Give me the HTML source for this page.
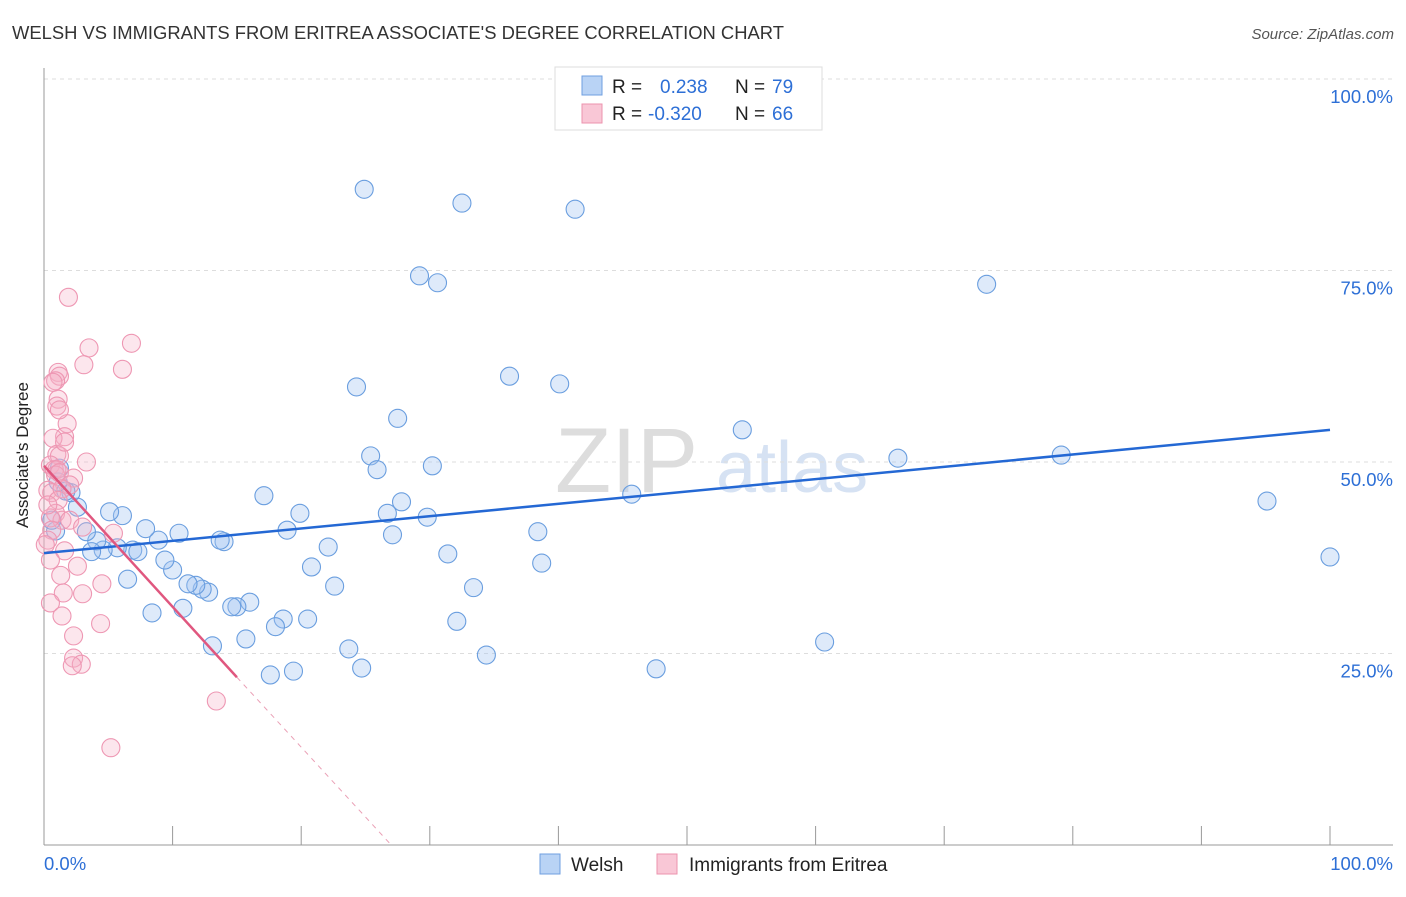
<!DOCTYPE html>
<html><head><meta charset="utf-8"><style>
body{margin:0;background:#fff;font-family:"Liberation Sans",sans-serif;}
svg text{font-family:"Liberation Sans",sans-serif;}
</style></head><body>
<svg width="1406" height="892" viewBox="0 0 1406 892">
<text x="12" y="39" font-size="18.4" fill="#333">WELSH VS IMMIGRANTS FROM ERITREA ASSOCIATE'S DEGREE CORRELATION CHART</text>
<text x="1394" y="39" font-size="15" fill="#555" font-style="italic" text-anchor="end">Source: ZipAtlas.com</text>
<g><text x="555" y="492" font-size="92" fill="#ddd" font-family="Liberation Serif,serif">ZIP</text><text x="716" y="492" font-size="72" fill="#d6e2f3">atlas</text></g>
<g id="grid"></g><g id="axes"></g><g id="pts"></g><g id="lines"></g>
<text x="28" y="455" font-size="17" fill="#222" text-anchor="middle" transform="rotate(-90 28 455)">Associate's Degree</text>
<g>
<rect x="555" y="67" width="267" height="63" fill="#fff" stroke="#ddd"/>
<rect x="582" y="76" width="20" height="19" fill="#b9d3f5" stroke="#6f9fe0"/>
<rect x="582" y="104" width="20" height="19" fill="#f9c7d6" stroke="#ec93ae"/>
<text y="93" font-size="19" fill="#222"><tspan x="612">R =</tspan><tspan x="660" fill="#2d6fd6">0.238</tspan><tspan x="735">N =</tspan><tspan x="772" fill="#2d6fd6">79</tspan></text>
<text y="120" font-size="19" fill="#222"><tspan x="612">R =</tspan><tspan x="648" fill="#2d6fd6">-0.320</tspan><tspan x="735">N =</tspan><tspan x="772" fill="#2d6fd6">66</tspan></text>
</g>
<g>
<rect x="540" y="854" width="20" height="20" fill="#b9d3f5" stroke="#6f9fe0"/>
<text x="571" y="871" font-size="19" fill="#222">Welsh</text>
<rect x="657" y="854" width="20" height="20" fill="#f9c7d6" stroke="#ec93ae"/>
<text x="689" y="871" font-size="19" fill="#222">Immigrants from Eritrea</text>
</g>
</svg>
<script>
const blueX=[24.9,32.5,41.3,29.2,30.6,73.3,36.2,24.3,40.1,27.5,54.3,25.4,25.9,30.2,66.4,79.1,45.7,95.1,100,17.1,27.8,26.7,29.8,27.1,38.4,31.4,38.7,33.4,32.1,34.4,47.6,60.7,23.7,24.7,19.4,17.6,19.9,18.9,22.1,20.8,22.6,20.5,18.6,18.0,15.7,16.0,15.0,14.6,13.1,12.8,12.3,11.8,11.2,10.8,10.0,9.4,10.5,8.9,7.9,8.4,6.5,6.1,5.1,6.9,7.3,5.7,4.6,4.1,3.7,3.3,2.6,2.1,1.7,1.1,1.2,0.9,0.6,14.0,13.7];
const blueY=[85.6,83.8,83.0,74.3,73.4,73.2,61.2,59.8,60.2,55.7,54.2,50.8,49.0,49.5,50.5,50.9,45.8,44.9,37.6,45.6,44.8,43.3,42.8,40.5,40.9,38.0,36.8,33.6,29.2,24.8,23.0,26.5,25.6,23.1,22.7,22.2,43.3,41.1,38.9,36.3,33.8,29.5,29.5,28.5,26.9,31.7,31.1,31.1,26.0,33.0,33.4,33.9,34.1,30.9,35.9,37.2,40.7,39.8,41.3,30.3,34.7,43.0,43.5,38.5,38.3,38.8,38.5,39.7,38.3,40.9,44.1,46.0,46.2,47.4,49.2,41.0,42.4,39.6,39.8];
const pinkX=[1.9,6.8,3.5,3.1,6.1,1.1,1.2,0.9,0.7,1.1,1.0,1.8,1.6,0.7,1.0,1.2,1.6,3.3,0.5,0.8,1.0,0.9,1.2,0.3,0.6,2.3,2.0,1.4,1.1,0.9,1.4,0.5,2.0,0.6,0.3,3.0,5.4,1.6,2.6,1.3,4.5,3.0,1.5,0.5,1.4,4.4,2.3,2.3,2.9,2.2,13.4,5.2,0.5,0.1,0.3,1.2];
const pinkY=[71.5,65.5,64.9,62.7,62.1,61.7,61.2,60.6,60.4,58.2,57.3,55.0,53.3,53.1,51.0,50.8,52.6,50.0,49.6,49.0,49.0,48.3,48.6,46.3,46.0,47.9,47.0,46.5,45.0,43.3,42.4,42.7,42.4,41.1,39.8,41.5,40.7,38.4,36.4,35.2,34.1,32.8,32.9,31.6,29.9,28.9,27.3,24.4,23.6,23.4,18.8,12.7,37.2,39.2,44.4,56.8];
const blueTrendX=[0,100], blueTrendY=[38.1,54.2];
const pinkTrendX=[0,15,27], pinkTrendY=[49.5,21.9,0];
const yTicks=[25,50,75,100], yTickLabels=["25.0%","50.0%","75.0%","100.0%"];
const xTicks=[0,10,20,30,40,50,60,70,80,90,100];
const NS="http://www.w3.org/2000/svg";
const sx=v=>44+v*12.86, sy=v=>845-v*7.66;
function mk(parent,tag,attrs){const e=document.createElementNS(NS,tag);for(const k in attrs)e.setAttribute(k,attrs[k]);document.getElementById(parent).appendChild(e);return e;}
yTicks.forEach((t,i)=>{
 const g=mk('grid','line',{x1:44,x2:1393,y1:sy(t),y2:sy(t),stroke:'#ddd','stroke-dasharray':'4,4'});
 
 
 const l=mk('grid','text',{x:1393,y:sy(t)+24,'font-size':18.5,fill:'#2d6fd6','text-anchor':'end'});
 l.textContent=yTickLabels[i];
 
 
});
const ya=mk('axes','line',{x1:44,x2:44,y1:68,y2:845,stroke:'#999'});


const xa=mk('axes','line',{x1:44,x2:1393,y1:845,y2:845,stroke:'#999'});


xTicks.forEach(t=>{const k=mk('axes','line',{x1:sx(t),x2:sx(t),y1:826,y2:845,stroke:'#999'});
 
 });
const x0=mk('axes','text',{x:44,y:870,'font-size':18.5,fill:'#2d6fd6'});x0.textContent='0.0%';


const x1=mk('axes','text',{x:1393,y:870,'font-size':18.5,fill:'#2d6fd6','text-anchor':'end'});x1.textContent='100.0%';


blueX.forEach((v,i)=>{const c=mk('pts','circle',{cx:sx(v),cy:sy(blueY[i]),r:9,fill:'rgba(160,196,240,0.35)',stroke:'#6a9edf','stroke-width':1.1});
 
 });
pinkX.forEach((v,i)=>{const c=mk('pts','circle',{cx:sx(v),cy:sy(pinkY[i]),r:9,fill:'rgba(246,176,199,0.32)',stroke:'#ee97b3','stroke-width':1.1});
 
 });
const bt=mk('lines','line',{x1:sx(blueTrendX[0]),y1:sy(blueTrendY[0]),x2:sx(blueTrendX[1]),y2:sy(blueTrendY[1]),stroke:'#2468d4','stroke-width':2.5});


const pt=mk('lines','line',{x1:sx(pinkTrendX[0]),y1:sy(pinkTrendY[0]),x2:sx(pinkTrendX[1]),y2:sy(pinkTrendY[1]),stroke:'#e0577f','stroke-width':2.5});


const pd=mk('lines','line',{x1:sx(pinkTrendX[1]),y1:sy(pinkTrendY[1]),x2:sx(pinkTrendX[2]),y2:sy(pinkTrendY[2]),stroke:'#eaa0b6','stroke-width':1,'stroke-dasharray':'5,5'});


</script>
</body></html>
